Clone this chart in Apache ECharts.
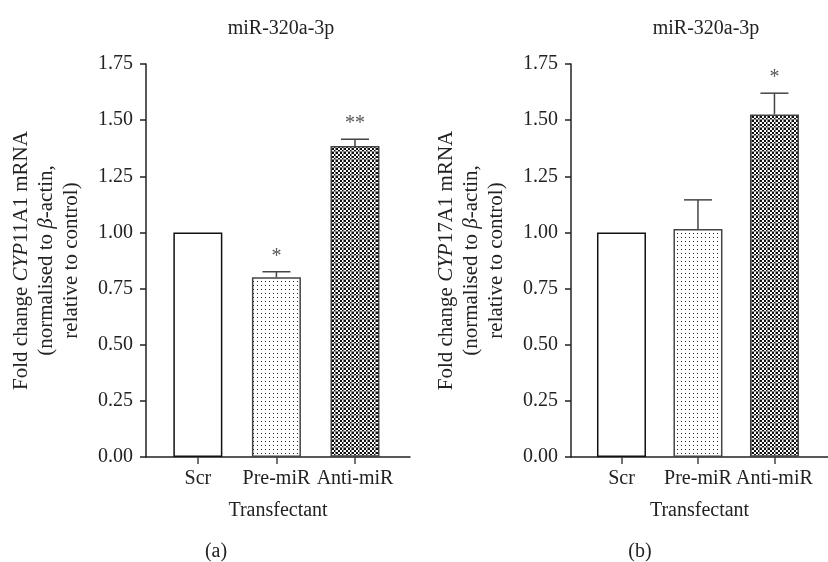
<!DOCTYPE html>
<html>
<head>
<meta charset="utf-8">
<script src="https://cdn.jsdelivr.net/npm/echarts@6/dist/echarts.min.js"></script>
<style>
html,body{margin:0;padding:0;background:#fff;}
#chart{width:828px;height:562px;}
</style>
</head>
<body>
<div id="chart"></div>
<script>
// ---- data ----
const categories = ['Scr', 'Pre-miR', 'Anti-miR'];
const valuesA = [1.00, 0.80, 1.385];
const errorsA = [0, 0.025, 0.03];
const sigA = ['', '*', '**'];
const valuesB = [1.00, 1.015, 1.525];
const errorsB = [0, 0.13, 0.095];
const sigB = ['', '', '*'];
const titleText = 'miR-320a-3p';
const xName = 'Transfectant';
const panelLabels = ['(a)', '(b)'];
const geneNames = ['CYP11A1', 'CYP17A1'];

// ---- patterns ----
function dotPattern() {
  const c = document.createElement('canvas');
  c.width = 4; c.height = 4;
  const g = c.getContext('2d');
  g.fillStyle = '#fff'; g.fillRect(0, 0, 4, 4);
  g.fillStyle = '#222'; g.fillRect(1, 1, 1, 1);
  return c;
}
function checkPattern() {
  const c = document.createElement('canvas');
  c.width = 8; c.height = 8;
  const g = c.getContext('2d');
  g.fillStyle = '#fff'; g.fillRect(0, 0, 8, 8);
  g.fillStyle = '#111';
  for (let y = 0; y < 8; y += 2) for (let x = 0; x < 8; x += 2) {
    if (((x + y) / 2) % 2 === 0) g.fillRect(x, y, 2, 2);
  }
  g.fillStyle = '#888';
  g.fillRect(7, 0, 1, 8);
  g.fillRect(0, 7, 8, 1);
  return c;
}
const fills = [
  '#ffffff',
  { image: dotPattern(), repeat: 'repeat' },
  { image: checkPattern(), repeat: 'repeat' }
];
const borders = ['#111', '#444', '#444'];

const FONT = '"Liberation Serif", "Times New Roman", serif';
const FS = 20;
const chart = echarts.init(document.getElementById('chart'), null, { renderer: 'canvas' });

const grids = [
  { left: 146, top: 64, width: 264, height: 393 },
  { left: 571, top: 64, width: 264, height: 393 }
];

function xAxisFor(i) {
  return {
    type: 'value', gridIndex: i, min: -0.66, max: 2.7,
    splitLine: { show: false },
    axisLine: { show: true, onZero: false, lineStyle: { color: '#222', width: 1.5 } },
    axisTick: { show: true, customValues: [0, 1, 2], length: 7, lineStyle: { color: '#444', width: 1.5 } },
    axisLabel: {
      customValues: [0, 1, 2], formatter: v => categories[Math.round(v)],
      fontFamily: FONT, fontSize: FS, color: '#222', margin: 12
    },
    name: xName, nameLocation: 'middle', nameGap: 44,
    nameTextStyle: { fontFamily: FONT, fontSize: FS, color: '#222' }
  };
}
function yAxisFor(i) {
  return {
    type: 'value', gridIndex: i, min: 0, max: 1.75, interval: 0.25,
    splitLine: { show: false },
    axisLine: { show: true, onZero: false, lineStyle: { color: '#222', width: 1.5 } },
    axisTick: { show: true, length: 6, lineStyle: { color: '#222', width: 1.5 } },
    axisLabel: { formatter: v => v.toFixed(2), fontFamily: FONT, fontSize: FS, color: '#222', margin: 13 },
    name: 'Fold change {i|' + geneNames[i].slice(0, 3) + '}' + geneNames[i].slice(3) + ' mRNA\n(normalised to {i|β}-actin,\nrelative to control)',
    nameLocation: 'middle', nameRotate: 90, nameGap: 62,
    nameTextStyle: {
      fontFamily: FONT, fontSize: 21, color: '#222', lineHeight: 25, align: 'center',
      rich: { i: { fontFamily: FONT, fontSize: 21, fontStyle: 'italic', color: '#222', lineHeight: 25 } }
    }
  };
}

function barSeries(i, vals) {
  return {
    type: 'bar', xAxisIndex: i, yAxisIndex: i, barWidth: 49,
    data: vals.map((v, k) => ({
      value: [k, v],
      itemStyle: { color: fills[k], borderColor: borders[k], borderWidth: 1.5 }
    })),
    animation: false
  };
}
function errSeries(i, vals, errs, sigs) {
  return {
    type: 'custom', xAxisIndex: i, yAxisIndex: i, z: 5,
    data: vals.map((v, k) => [k, v, errs[k]]),
    renderItem: function (params, api) {
      const k = params.dataIndex;
      const x = api.value(0), v = api.value(1), e = api.value(2);
      const p0 = api.coord([x, v]);
      const p1 = api.coord([x, v + e]);
      const children = [];
      if (e > 0) {
        children.push({ type: 'line', shape: { x1: p0[0], y1: p0[1], x2: p1[0], y2: p1[1] }, style: { stroke: '#444', lineWidth: 1.5 } });
        children.push({ type: 'line', shape: { x1: p1[0] - 14, y1: p1[1], x2: p1[0] + 14, y2: p1[1] }, style: { stroke: '#444', lineWidth: 1.5 } });
      }
      if (sigs[k]) {
        children.push({ type: 'text', style: { text: sigs[k], x: p1[0], y: p1[1] - 5, align: 'center', verticalAlign: 'bottom', fontFamily: FONT, fontSize: 20, fill: '#555' } });
      }
      return { type: 'group', children: children };
    },
    animation: false
  };
}

const titleStyle = { fontFamily: FONT, fontSize: 20, fontWeight: 'normal', color: '#222' };
chart.setOption({
  animation: false,
  title: [
    { text: titleText, left: 276, top: 14, textAlign: 'center', textStyle: titleStyle },
    { text: titleText, left: 701, top: 14, textAlign: 'center', textStyle: titleStyle },
    { text: panelLabels[0], left: 211, top: 537, textAlign: 'center', textStyle: titleStyle },
    { text: panelLabels[1], left: 635, top: 537, textAlign: 'center', textStyle: titleStyle }
  ],
  grid: grids,
  xAxis: [xAxisFor(0), xAxisFor(1)],
  yAxis: [yAxisFor(0), yAxisFor(1)],
  series: [
    barSeries(0, valuesA), errSeries(0, valuesA, errorsA, sigA),
    barSeries(1, valuesB), errSeries(1, valuesB, errorsB, sigB)
  ]
});
</script>
</body>
</html>
